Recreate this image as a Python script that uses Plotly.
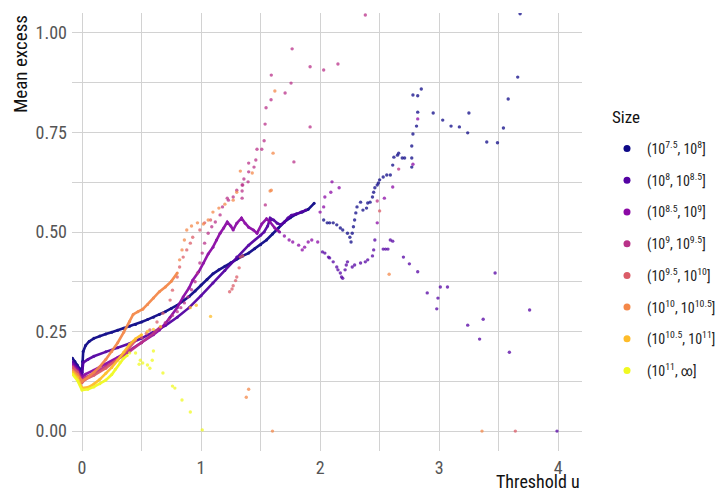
import plotly.graph_objects as go

# ---------------- data ----------------
labels = ["(10<sup>7.5</sup>, 10<sup>8</sup>]", "(10<sup>8</sup>, 10<sup>8.5</sup>]",
          "(10<sup>8.5</sup>, 10<sup>9</sup>]", "(10<sup>9</sup>, 10<sup>9.5</sup>]",
          "(10<sup>9.5</sup>, 10<sup>10</sup>]", "(10<sup>10</sup>, 10<sup>10.5</sup>]",
          "(10<sup>10.5</sup>, 10<sup>11</sup>]", "(10<sup>11</sup>, ∞]"]
colors = ["#0D0887", "#5402A3", "#8B0AA5", "#B93289", "#DB5C68", "#F48849", "#FEBC2A", "#F0F921"]

# series 1 (10^7.5, 10^8]
s1_line_x = [-0.08,-0.06,-0.04,-0.02,0.0,0.005,0.01,0.03,0.06,0.1,0.15,0.2,0.25,0.3,0.35,0.4,0.45,0.5,0.55,0.6,0.65,0.7,0.75,0.8,0.85,0.9,0.95,1.0,1.05,1.1,1.15,1.2,1.25,1.3,1.35,1.4,1.45,1.5,1.55,1.6,1.65,1.7,1.75,1.8,1.85,1.9,1.95]
s1_line_y = [0.183,0.175,0.166,0.157,0.147,0.175,0.2,0.215,0.225,0.233,0.239,0.244,0.248,0.253,0.258,0.263,0.268,0.274,0.28,0.286,0.293,0.3,0.308,0.316,0.327,0.338,0.352,0.367,0.381,0.395,0.405,0.414,0.423,0.432,0.44,0.447,0.458,0.468,0.48,0.495,0.51,0.525,0.536,0.545,0.55,0.557,0.572]
s1_pts_x = [2.03,2.06,2.08,2.11,2.14,2.17,2.19,2.23,2.25,2.26,2.27,2.28,2.29,2.30,2.31,2.34,2.36,2.39,2.40,2.42,2.44,2.45,2.46,2.48,2.49,2.50,2.53,2.56,2.59,2.61,2.62,2.65,2.66,2.69,2.71,2.77,2.77,2.77,2.78,2.81,2.82,2.78,2.82,2.85,2.95,3.03,3.10,3.17,3.24,3.25,3.40,3.49,3.54,3.58,3.66,3.68]
s1_pts_y = [0.530,0.523,0.523,0.523,0.518,0.510,0.505,0.497,0.487,0.475,0.497,0.513,0.530,0.548,0.563,0.575,0.555,0.560,0.573,0.575,0.588,0.600,0.611,0.618,0.623,0.631,0.638,0.643,0.643,0.668,0.688,0.693,0.698,0.686,0.686,0.663,0.686,0.716,0.746,0.766,0.801,0.844,0.842,0.859,0.799,0.781,0.766,0.764,0.749,0.799,0.726,0.724,0.761,0.834,0.889,1.048]

# series 2 (10^8, 10^8.5]
s2_line_x = [-0.08,-0.04,0.0,0.01,0.05,0.1,0.2,0.3,0.4,0.5,0.6,0.7,0.8,0.9,1.0,1.1,1.2,1.3,1.4,1.5,1.53,1.56,1.58,1.61,1.64,1.67,1.70,1.73,1.76,1.80,1.84,1.88]
s2_line_y = [0.174,0.16,0.142,0.172,0.18,0.188,0.199,0.209,0.22,0.233,0.248,0.265,0.286,0.31,0.34,0.372,0.403,0.437,0.467,0.492,0.50,0.515,0.535,0.53,0.522,0.518,0.525,0.535,0.542,0.545,0.55,0.555]
s2_pts_x = [2.02,2.04,2.07,2.08,2.11,2.14,2.15,2.17,2.18,2.19,2.21,2.22,2.23,2.27,2.29,2.34,2.38,2.40,2.44,2.45,2.46,2.53,2.55,2.57,2.59,2.61,2.70,2.75,2.82,2.90,2.98,2.99,3.01,3.07,3.24,3.34,3.37,3.47,3.59,3.76,3.99]
s2_pts_y = [0.45,0.447,0.437,0.435,0.425,0.412,0.405,0.397,0.387,0.384,0.405,0.417,0.425,0.412,0.417,0.422,0.425,0.43,0.44,0.455,0.48,0.457,0.457,0.457,0.48,0.477,0.437,0.42,0.40,0.347,0.307,0.334,0.362,0.362,0.266,0.231,0.281,0.397,0.198,0.304,0.0]

# series 3 (10^8.5, 10^9]
s3_line_x = [-0.08,-0.04,0.0,0.03,0.1,0.2,0.3,0.4,0.5,0.6,0.65,0.7,0.74,0.8,0.85,0.9,0.93,0.98,1.02,1.06,1.10,1.13,1.16,1.19,1.22,1.25,1.27,1.30,1.34,1.37,1.40,1.44,1.47,1.51,1.55,1.58,1.62,1.66]
s3_line_y = [0.167,0.155,0.135,0.143,0.153,0.168,0.185,0.203,0.222,0.242,0.254,0.27,0.286,0.31,0.337,0.36,0.379,0.40,0.422,0.445,0.462,0.48,0.497,0.51,0.525,0.515,0.505,0.522,0.535,0.522,0.512,0.505,0.497,0.52,0.533,0.525,0.51,0.50]
s3_pts_x = [1.70,1.74,1.77,1.82,1.85,1.87,1.90,1.93,1.98,2.0,2.03,2.04,2.09,2.10,2.16,2.48,2.54,2.61,2.78,2.82]
s3_pts_y = [0.49,0.48,0.475,0.467,0.455,0.462,0.475,0.48,0.475,0.55,0.563,0.588,0.60,0.626,0.611,0.523,0.585,0.613,0.67,0.784]

# series 4 (10^9, 10^9.5]
s4_line_x = [-0.08,-0.04,0.0,0.03,0.1,0.2,0.3,0.4,0.5,0.6,0.66]
s4_line_y = [0.163,0.15,0.128,0.135,0.145,0.162,0.18,0.2,0.222,0.245,0.262]
s4_pts_x = [0.70,0.73,0.76,0.80,0.83,0.86,0.89,0.92,0.95,0.97,0.99,1.01,1.03,1.06,1.09,1.12,1.16,1.18,1.22,1.23,1.27,1.30,1.345,1.345,1.345,1.35,1.36,1.395,1.40,1.40,1.445,1.46,1.47,1.51,1.53,1.538,1.546,1.588,1.59,1.706,1.756,1.765,1.78,1.916,1.916,2.03,2.15,2.38,1.54,2.66,2.48]
s4_pts_y = [0.272,0.28,0.29,0.30,0.31,0.322,0.337,0.355,0.375,0.397,0.422,0.447,0.472,0.497,0.513,0.525,0.543,0.563,0.585,0.58,0.588,0.605,0.585,0.603,0.618,0.618,0.633,0.626,0.651,0.673,0.663,0.681,0.708,0.708,0.729,0.771,0.812,0.832,0.894,0.849,0.874,0.96,0.676,0.915,0.764,0.907,0.922,1.045,0.568,0.658,0.578]

# series 5 (10^9.5, 10^10]
s5_line_x = [-0.08,-0.04,0.0,0.03,0.1,0.2,0.3,0.4,0.45]
s5_line_y = [0.16,0.148,0.122,0.13,0.14,0.158,0.18,0.21,0.228]
s5_pts_x = [0.50,0.54,0.57,0.63,0.68,0.74,0.76,0.80,0.82,0.85,0.88,0.91,0.93,0.99,1.03,1.08,1.24,1.26,1.27,1.29,1.30,1.32,1.33,1.35,3.64,2.5]
s5_pts_y = [0.235,0.245,0.254,0.274,0.296,0.329,0.354,0.387,0.412,0.437,0.455,0.472,0.487,0.505,0.523,0.53,0.35,0.357,0.365,0.378,0.387,0.41,0.437,0.44,0.0,0.553]

# series 6 (10^10, 10^10.5]
s6_line_x = [-0.08,-0.04,0.0,0.05,0.1,0.15,0.2,0.25,0.3,0.35,0.4,0.43,0.47,0.51,0.55,0.6,0.65,0.7,0.75,0.8]
s6_line_y = [0.152,0.142,0.125,0.135,0.148,0.162,0.18,0.2,0.222,0.248,0.275,0.293,0.30,0.306,0.318,0.334,0.35,0.362,0.376,0.397]
s6_pts_x = [0.82,0.84,0.86,0.88,0.92,0.97,1.02,1.06,1.10,1.15,1.20,1.27,1.30,1.33,1.43,1.58,1.59,1.605,1.62,1.38,1.40,1.60,2.58,3.36]
s6_pts_y = [0.43,0.455,0.48,0.505,0.515,0.523,0.52,0.53,0.55,0.56,0.57,0.58,0.60,0.653,0.648,0.603,0.605,0.698,0.854,0.085,0.105,0.0,0.394,0.0]

# series 7 (10^10.5, 10^11]
s7_line_x = [-0.08,-0.04,0.0,0.05,0.1,0.15,0.2,0.25,0.3,0.35,0.4,0.45,0.5]
s7_line_y = [0.148,0.135,0.108,0.11,0.118,0.13,0.145,0.16,0.178,0.198,0.218,0.232,0.242]
s7_pts_x = [0.55,0.6,0.66,0.91,0.96,1.08]
s7_pts_y = [0.25,0.255,0.262,0.31,0.316,0.288]

# series 8 (10^11, inf]
s8_line_x = [-0.08,-0.04,0.0,0.05,0.1,0.15,0.2,0.25,0.28,0.32,0.35,0.38]
s8_line_y = [0.143,0.128,0.103,0.105,0.111,0.119,0.128,0.142,0.155,0.172,0.183,0.19]
s8_pts_x = [0.40,0.45,0.49,0.48,0.51,0.55,0.57,0.59,0.60,0.68,0.76,0.78,0.84,0.91,1.01]
s8_pts_y = [0.196,0.196,0.178,0.168,0.171,0.166,0.158,0.178,0.201,0.146,0.113,0.108,0.078,0.048,0.003]

x_ticks = [0, 1, 2, 3, 4]
y_ticks = [0.0, 0.25, 0.5, 0.75, 1.0]
y_tick_text = ["0.00", "0.25", "0.50", "0.75", "1.00"]

series = [
    (s1_line_x, s1_line_y, s1_pts_x, s1_pts_y),
    (s2_line_x, s2_line_y, s2_pts_x, s2_pts_y),
    (s3_line_x, s3_line_y, s3_pts_x, s3_pts_y),
    (s4_line_x, s4_line_y, s4_pts_x, s4_pts_y),
    (s5_line_x, s5_line_y, s5_pts_x, s5_pts_y),
    (s6_line_x, s6_line_y, s6_pts_x, s6_pts_y),
    (s7_line_x, s7_line_y, s7_pts_x, s7_pts_y),
    (s8_line_x, s8_line_y, s8_pts_x, s8_pts_y),
]

FONT = "Liberation Sans Narrow, Arial Narrow, Roboto Condensed, Roboto, sans-serif"

# layout geometry: plot area from x=72 to x=582 px, legend to the right
W, H = 719, 493
PAPER_W = W - 72
X_DOMAIN_END = (582 - 72) / PAPER_W

fig = go.Figure()
for (lx, ly, px, py), col, lab in zip(series, colors, labels):
    fig.add_trace(go.Scatter(x=lx, y=ly, mode="lines+markers",
                             line=dict(color=col, width=2.6),
                             marker=dict(color=col, size=3),
                             opacity=0.95, showlegend=False, hoverinfo="skip"))
    fig.add_trace(go.Scatter(x=px, y=py, mode="markers",
                             marker=dict(color=col, size=3.4, opacity=0.75),
                             showlegend=False, hoverinfo="skip"))
for col, lab in zip(colors, labels):
    fig.add_trace(go.Scatter(x=[None], y=[None], mode="markers", name=lab,
                             marker=dict(color=col, size=7), legendgroup=lab))

grid = "#d2d2d2"
fig.update_layout(
    width=W, height=H,
    margin=dict(l=72, r=0, t=13, b=42, autoexpand=False),
    paper_bgcolor="white", plot_bgcolor="white",
    font=dict(family=FONT, size=14, color="#222222"),
    showlegend=True,
    legend=dict(xref="container", yref="container",
                x=607 / W, y=1 - 133 / H, xanchor="left", yanchor="top",
                font=dict(size=14, color="#222222"),
                tracegroupgap=10.5, itemwidth=30, bgcolor="rgba(0,0,0,0)"),
    xaxis=dict(domain=[0, X_DOMAIN_END], range=[-0.084, 4.2],
               tickvals=x_ticks, ticktext=[str(t) for t in x_ticks],
               showgrid=True, gridcolor=grid, gridwidth=1.2,
               minor=dict(dtick=0.5, tick0=0.5, showgrid=True, gridcolor=grid, gridwidth=1.2),
               zeroline=False, showline=False, ticks="",
               tickfont=dict(size=18, color="#555555"), ticklabelstandoff=4),
    yaxis=dict(range=[-0.05, 1.05], tickvals=y_ticks, ticktext=y_tick_text,
               showgrid=True, gridcolor=grid, gridwidth=1.2,
               minor=dict(dtick=0.125, tick0=0.125, showgrid=True, gridcolor=grid, gridwidth=1.2),
               zeroline=False, showline=False, ticks="",
               tickfont=dict(size=18, color="#555555"), ticklabelstandoff=4),
    annotations=[
        dict(text="Threshold u", xref="paper", yref="paper", x=X_DOMAIN_END, y=-(482 - 451) / 438,
             xanchor="right", yanchor="middle", showarrow=False,
             font=dict(size=18, color="#111111")),
        dict(text="Mean excess", xref="paper", yref="paper", x=-52 / PAPER_W, y=1.0,
             xanchor="center", yanchor="top", textangle=-90, showarrow=False,
             font=dict(size=19, color="#111111")),
        dict(text="Size", xref="paper", yref="paper", x=(610 - 72) / PAPER_W, y=(451 - 117) / 438,
             xanchor="left", yanchor="middle", showarrow=False,
             font=dict(size=17, color="#111111")),
    ],
)

fig.write_html("out.html")
